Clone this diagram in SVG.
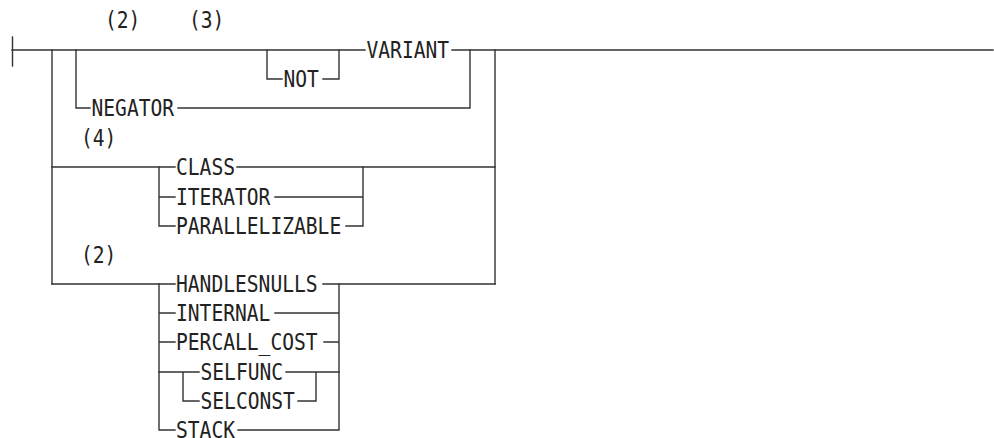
<svg xmlns="http://www.w3.org/2000/svg" width="994" height="438" viewBox="0 0 994 438">
<style>
.l{stroke:#333;stroke-width:1.4;fill:none;stroke-linecap:square}
text{font-family:"DejaVu Sans Mono","Liberation Mono",monospace;font-size:22.5px;fill:#222}
</style>
<rect width="994" height="438" fill="#fff"/>
<g id="connectors" class="l">
<path d="M12.5 37V66"/>
<path d="M12 50H365M452 50H993"/>
<path d="M267 50V79H282M323 79H339V50"/>
<path d="M52 50V284"/>
<path d="M76 50V108H90M178 108H470V50"/>
<path d="M495 50V284"/>
<path d="M52 167H175M237 167H495"/>
<path d="M159 167V226H175M159 197H175M275 197H363M346 226H363V167"/>
<path d="M52 284H175M323 284H495"/>
<path d="M159 284V430H175M159 313H175M275 313H339M159 342H175M324 342H339M238 430H339M339 284V430"/>
<path d="M159 372H199M286 372H339M183 372V401H199M298 401H316V372"/>
</g>
<g id="labels">
<text x="105" y="28" textLength="35.4" lengthAdjust="spacingAndGlyphs">(2)</text>
<text x="189" y="28" textLength="35.4" lengthAdjust="spacingAndGlyphs">(3)</text>
<text x="81" y="146" textLength="35.4" lengthAdjust="spacingAndGlyphs">(4)</text>
<text x="81" y="263" textLength="35.4" lengthAdjust="spacingAndGlyphs">(2)</text>
</g>
<g id="n-not"><text x="283.5" y="87" textLength="35.4" lengthAdjust="spacingAndGlyphs">NOT</text></g>
<g id="n-variant"><text x="366.5" y="58" textLength="82.6" lengthAdjust="spacingAndGlyphs">VARIANT</text></g>
<g id="n-negator"><text x="91.5" y="116" textLength="82.6" lengthAdjust="spacingAndGlyphs">NEGATOR</text></g>
<g id="n-class"><text x="176" y="175" textLength="59" lengthAdjust="spacingAndGlyphs">CLASS</text></g>
<g id="n-iterator"><text x="176" y="205" textLength="94.4" lengthAdjust="spacingAndGlyphs">ITERATOR</text></g>
<g id="n-parallelizable"><text x="176" y="234" textLength="165.2" lengthAdjust="spacingAndGlyphs">PARALLELIZABLE</text></g>
<g id="n-handlesnulls"><text x="176" y="292" textLength="141.6" lengthAdjust="spacingAndGlyphs">HANDLESNULLS</text></g>
<g id="n-internal"><text x="176" y="321" textLength="94.4" lengthAdjust="spacingAndGlyphs">INTERNAL</text></g>
<g id="n-percall"><text x="176" y="350" textLength="141.6" lengthAdjust="spacingAndGlyphs">PERCALL_COST</text></g>
<g id="n-selfunc"><text x="200.5" y="380" textLength="82.6" lengthAdjust="spacingAndGlyphs">SELFUNC</text></g>
<g id="n-selconst"><text x="200.5" y="409" textLength="94.4" lengthAdjust="spacingAndGlyphs">SELCONST</text></g>
<g id="n-stack"><text x="176" y="437.5" textLength="59" lengthAdjust="spacingAndGlyphs">STACK</text></g>
</svg>
